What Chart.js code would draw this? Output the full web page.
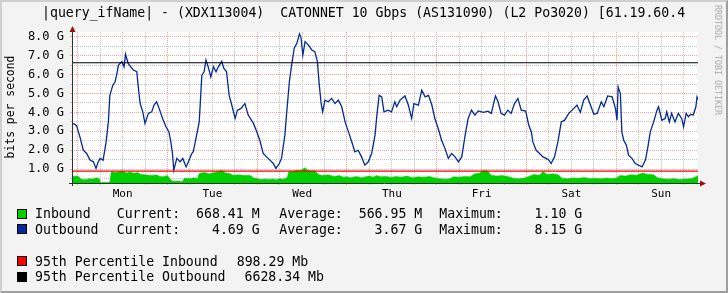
<!DOCTYPE html>
<html><head><meta charset="utf-8">
<script src="https://cdn.jsdelivr.net/npm/chart.js@4/dist/chart.umd.min.js"></script>
<style>
html,body{margin:0;padding:0;background:#F3F3F3;}
#wrap{position:relative;width:728px;height:293px;overflow:hidden;background:#F3F3F3;font-family:'DejaVu Sans Mono',monospace;color:#000;}
#c{position:absolute;left:0;top:0;}
.t{position:absolute;white-space:pre;line-height:1;font-size:13.2px;}
.sw{position:absolute;width:8px;height:8px;border:1px solid #000;}
#frame{position:absolute;left:0;top:0;width:728px;height:293px;box-sizing:border-box;border-left:2px solid #CFCFCF;border-top:2px solid #CFCFCF;border-right:2px solid #9E9E9E;border-bottom:2px solid #9E9E9E;pointer-events:none;}
#ylab{position:absolute;left:11px;top:107px;font-size:11.4px;line-height:1;white-space:pre;transform:translate(-50%,-50%) rotate(-90deg);}
#rrd{position:absolute;left:718px;top:60px;font-size:8.3px;line-height:1;color:#A8A8A8;white-space:pre;transform:translate(-50%,-50%) rotate(90deg);}
</style></head>
<body>
<div id="wrap">
<canvas id="c" width="728" height="293"></canvas>
<div class="t" style="left:42px;top:6.3px;">|query_ifName| - (XDX113004)  CATONNET 10 Gbps (AS131090) (L2 Po3020) [61.19.60.4</div>
<div id="ylab">bits per second</div>
<div id="rrd">RRDTOOL / TOBI OETIKER</div>
<div id="legend"></div>
<div id="frame"></div>
</div>
<script>
// ---------- data ----------
const dayLabels = ['Mon','Tue','Wed','Thu','Fri','Sat','Sun'];
const xTickHours = [0,6,12,18,24,30,36,42,48,54,60,66,72,78,84,90,96,102,108,114,120,126,132,138,144,150,156,162];
const yTickValues = [0.5,1,1.5,2,2.5,3,3.5,4,4.5,5,5.5,6,6.5,7,7.5,8];
const xMinHour = -1.52, xMaxHour = 165.86;   // hours since Monday 00:00
const yMinG = 0.27, yMaxG = 8.25;

// Outbound (G bits/s) sampled at hours since Monday 00:00
const outHours = [-1.2,-0.3,0.6,1.5,2.4,3.3,4.2,4.9,5.5,6.0,6.8,7.6,8.2,8.6,9.4,10.0,10.4,10.9,11.8,12.4,12.8,13.5,14.2,14.9,15.8,16.2,16.7,17.4,18.0,18.9,19.8,20.4,21.1,21.8,22.7,23.6,24.4,24.9,25.3,25.7,26.5,27.4,28.1,29.0,29.6,30.5,30.9,31.8,32.5,33.2,33.8,34.3,34.9,35.6,36.3,37.0,37.6,38.5,39.1,39.8,40.5,41.2,42.1,42.7,43.6,44.7,45.6,47.0,47.9,48.7,49.6,50.5,51.4,52.3,53.0,53.9,54.5,55.4,55.9,56.6,57.2,57.9,58.6,59.3,59.7,60.2,60.8,61.7,62.6,63.4,64.1,64.6,65.1,65.5,66.1,67.0,67.9,68.8,69.7,70.6,71.5,72.4,73.3,74.1,75.0,75.9,76.8,77.7,78.6,79.5,80.0,80.6,81.3,81.9,83.0,83.9,84.8,85.3,86.2,87.5,88.4,89.3,89.9,91.1,92.0,92.9,93.8,94.7,95.5,96.4,97.3,98.2,99.1,100.0,100.9,101.8,102.7,103.6,104.4,105.3,106.2,107.1,108.5,109.7,110.6,111.7,112.4,113.2,114.1,115.0,115.9,116.8,117.7,118.6,119.8,120.6,121.3,121.7,122.6,123.5,124.4,125.3,126.0,126.6,127.5,128.4,129.3,130.2,131.3,132.2,133.5,134.4,135.3,136.2,137.1,138.0,138.9,140.0,140.7,141.7,142.9,143.8,144.2,144.5,145.1,145.5,146.0,146.7,147.3,148.2,149.1,150.0,150.9,151.8,152.4,153.1,154.0,154.9,155.3,156.2,157.1,157.5,158.2,158.8,159.7,160.6,161.5,162.0,162.7,163.3,163.9,164.6,165.3,165.6,165.9];
const outGbps = [3.42,3.30,2.71,2.00,1.83,1.48,1.39,1.04,1.39,1.57,1.48,2.44,3.50,4.90,5.44,5.62,5.97,6.50,6.68,6.41,7.07,6.59,6.41,6.24,6.15,5.35,4.47,4.03,3.42,3.95,4.03,4.39,4.56,4.20,3.68,3.24,2.97,2.44,1.92,0.95,1.57,1.39,1.57,1.12,1.39,1.83,1.92,2.80,3.50,5.97,6.15,6.77,6.41,5.88,6.41,6.15,6.41,6.70,6.33,6.15,4.90,4.39,3.68,4.12,4.20,4.47,3.86,3.42,2.97,2.53,1.83,1.65,1.48,1.30,1.04,1.30,1.57,2.80,4.03,5.62,6.50,7.39,7.65,8.15,7.97,7.03,7.74,7.56,7.30,7.21,6.68,5.44,4.47,4.03,4.65,4.56,4.74,4.47,4.65,4.30,3.50,2.97,2.44,1.92,2.00,1.65,1.21,1.39,1.83,2.80,3.86,4.90,4.82,4.03,4.12,4.03,4.56,4.30,4.65,4.87,4.39,3.68,4.47,4.39,5.18,4.82,4.90,4.39,3.68,3.15,2.53,2.10,1.57,1.83,1.65,1.39,1.65,2.80,3.68,4.12,3.86,4.08,4.00,4.07,3.95,4.87,4.56,3.95,3.86,4.12,3.95,4.47,4.74,4.12,4.07,3.33,2.97,2.44,2.00,1.83,1.65,1.57,1.48,1.30,1.65,2.44,3.50,3.59,3.95,4.12,4.39,4.00,4.65,4.87,4.39,3.90,3.95,4.56,4.30,4.87,4.82,4.20,3.59,5.35,5.00,2.97,2.53,2.27,1.74,1.57,1.30,1.21,1.12,1.48,2.10,2.97,3.50,4.12,4.30,3.59,3.68,4.03,3.50,3.95,3.50,3.95,3.68,3.24,3.95,3.77,3.90,3.86,4.30,4.82,4.69];

// Inbound (G bits/s)
const inHours = [-1.5,0,1,2,3,4,5,5.8,6.1,7,8,8.6,9,10,11,12,13,14,15,16,17,18,19,20,21,22,23,24,24.8,25.5,27,28,28.5,30,31,32,32.5,34,35,36,37,38.6,39.5,40.5,41.5,43,44.5,46,47,48,49,50,51,52,53,54,55,56,56.5,57.5,58.5,59.5,60.8,61.5,62.5,63.5,64.3,65.5,67,68.5,70,71,72,73,74.5,76,77,78,79,80,81,82.5,84,85,86.5,88,89.5,91,92.5,94,95.5,97,98,99.5,100.5,102,103.5,105,106,107.5,108.5,109.7,110.5,112,113.5,115,116.5,118,119.5,120.6,122,123.5,124.4,125.5,127,128.5,129.5,131,132.5,134,135.5,137,138.5,140,141.5,143,144.2,145,146.5,148,149.5,151,152.5,154,155,156.5,158,159.5,161,162.5,164,165.3,165.9];
const inGbps = [0.62,0.64,0.47,0.44,0.50,0.48,0.55,0.50,0.28,0.31,0.30,0.33,0.88,0.82,0.86,0.90,0.80,0.85,0.78,0.82,0.72,0.70,0.68,0.66,0.70,0.62,0.60,0.66,0.45,0.36,0.38,0.34,0.52,0.50,0.55,0.50,0.78,0.82,0.76,0.80,0.84,0.95,0.80,0.78,0.68,0.70,0.66,0.68,0.55,0.50,0.46,0.48,0.45,0.48,0.44,0.50,0.47,0.55,0.90,0.88,0.95,0.92,1.08,0.95,0.90,0.92,0.72,0.66,0.70,0.62,0.66,0.58,0.60,0.55,0.62,0.55,0.60,0.64,0.58,0.66,0.60,0.62,0.56,0.62,0.58,0.64,0.55,0.60,0.57,0.62,0.54,0.50,0.47,0.50,0.60,0.58,0.62,0.60,0.75,0.80,0.95,0.90,0.68,0.64,0.66,0.62,0.52,0.50,0.53,0.62,0.72,0.68,0.88,0.72,0.76,0.70,0.52,0.50,0.54,0.52,0.56,0.50,0.52,0.49,0.53,0.50,0.55,0.66,0.64,0.70,0.68,0.80,0.72,0.70,0.55,0.50,0.47,0.50,0.46,0.48,0.50,0.60,0.67];

const pct95InG = 0.89829, pct95OutG = 6.62834;

const legendRows = [
  {color:'#00CF00', name:'Inbound',  cur:'Current:  668.41 M', avg:'Average:  566.95 M', max:'Maximum:    1.10 G'},
  {color:'#002A97', name:'Outbound', cur:'Current:    4.69 G', avg:'Average:    3.67 G', max:'Maximum:    8.15 G'}
];
const pctRows = [
  {color:'#FF0000', name:'95th Percentile Inbound',  val:'898.29 Mb'},
  {color:'#000000', name:'95th Percentile Outbound', val:'6628.34 Mb'}
];

// ---------- legend (HTML text) ----------
const lg = document.getElementById('legend');
function addText(txt, x, top){ const d=document.createElement('div'); d.className='t'; d.textContent=txt; d.style.left=x+'px'; d.style.top=top+'px'; lg.appendChild(d); }
function addSw(col, top){ const d=document.createElement('div'); d.className='sw'; d.style.background=col; d.style.left='17px'; d.style.top=top+'px'; lg.appendChild(d); }
[[206.8,208.5],[222.5,224.2]].forEach((p,i)=>{
  const r=legendRows[i]; addSw(r.color,p[1]); addText(r.name,35,p[0]); addText(r.cur,116.7,p[0]); addText(r.avg,279.3,p[0]); addText(r.max,439.3,p[0]);
});
[[254.5,256.2,236.7],[270.1,271.8,244.5]].forEach((p,i)=>{
  const r=pctRows[i]; addSw(r.color,p[1]); addText(r.name,35,p[0]); addText(r.val,p[2],p[0]);
});

// ---------- chart ----------
const pts = (xs, ys) => xs.map((x,i)=>({x, y: ys[i]}));
const MAJ = '#FF9C9C', MIN = '#C4C4C4';

const framePlugin = {
  id:'framePlugin',
  beforeDraw(c){
    const a=c.chartArea, ctx=c.ctx;
    ctx.save(); ctx.fillStyle='#FFFFFF'; ctx.fillRect(a.left,a.top,a.right-a.left,a.bottom-a.top); ctx.restore();
  },
  afterDraw(c){
    const a=c.chartArea, ctx=c.ctx;
    ctx.save();
    ctx.strokeStyle='#303030'; ctx.lineWidth=1;
    ctx.beginPath();
    ctx.moveTo(a.left+0.5, a.top-2); ctx.lineTo(a.left+0.5, a.bottom+3);
    ctx.moveTo(a.left-3, a.bottom+0.5); ctx.lineTo(a.right+2, a.bottom+0.5);
    ctx.stroke();
    ctx.fillStyle='#9A1010';
    ctx.beginPath();
    ctx.moveTo(a.left+0.5, a.top-6); ctx.lineTo(a.left-2.5, a.top); ctx.lineTo(a.left+3.5, a.top); ctx.closePath(); ctx.fill();
    ctx.beginPath();
    ctx.moveTo(a.right+8, a.bottom+0.5); ctx.lineTo(a.right+2, a.bottom-2.5); ctx.lineTo(a.right+2, a.bottom+3.5); ctx.closePath(); ctx.fill();
    ctx.restore();
  }
};

new Chart(document.getElementById('c'), {
  type:'line',
  data:{ datasets:[
    {label:'95th In', data:[{x:xMinHour,y:pct95InG},{x:xMaxHour,y:pct95InG}], borderColor:'#FF0000', borderWidth:1.2, pointRadius:0, fill:false, order:0},
    {label:'95th Out', data:[{x:xMinHour,y:pct95OutG},{x:xMaxHour,y:pct95OutG}], borderColor:'#000000', borderWidth:1.1, pointRadius:0, fill:false, order:1},
    {label:'Outbound', data:pts(outHours,outGbps), borderColor:'#002A97', borderWidth:1.3, pointRadius:0, fill:false, tension:0, order:2},
    {label:'Inbound', data:pts(inHours,inGbps), borderColor:'#00CF00', backgroundColor:'#00CF00', borderWidth:0.5, pointRadius:0, fill:'start', tension:0, order:3}
  ]},
  options:{
    responsive:false, animation:false, devicePixelRatio:1,
    layout:{padding:{left:0,right:30,top:32,bottom:90}},
    plugins:{legend:{display:false}, tooltip:{enabled:false}, title:{display:false}},
    scales:{
      x:{type:'linear', min:xMinHour, max:xMaxHour,
        afterBuildTicks: ax => { ax.ticks = xTickHours.map(v=>({value:v})); },
        afterFit: s => { s.height = 20; },
        grid:{color: ctx => (ctx.tick && ctx.tick.value % 24 === 0) ? MAJ : MIN, lineWidth:1, drawTicks:true, tickLength:2},
        border:{display:false, dash:[1,1]},
        ticks:{autoSkip:false, maxRotation:0, padding:3, color:'#000', font:{family:'DejaVu Sans Mono', size:11},
          callback: v => (v % 24 === 12) ? dayLabels[(v-12)/24] : ''}
      },
      y:{type:'linear', min:yMinG, max:yMaxG,
        afterBuildTicks: ax => { ax.ticks = yTickValues.map(v=>({value:v})); },
        afterFit: s => { s.width = 72; },
        grid:{color: ctx => (ctx.tick && Number.isInteger(ctx.tick.value)) ? MAJ : MIN, lineWidth:1, drawTicks:true, tickLength:2},
        border:{display:false, dash:[1,1]},
        ticks:{autoSkip:false, padding:6, color:'#000', font:{family:'DejaVu Sans Mono', size:12},
          callback: v => Number.isInteger(v) ? v.toFixed(1)+' G' : ''}
      }
    }
  },
  plugins:[framePlugin]
});
</script>
</body></html>
